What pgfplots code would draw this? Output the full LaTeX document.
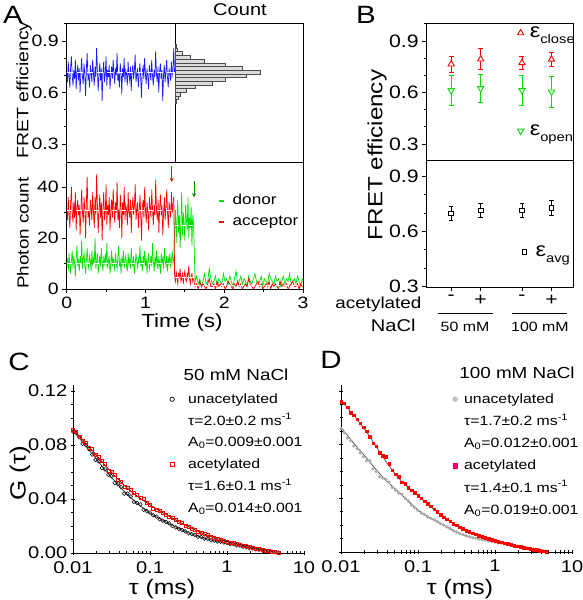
\documentclass[border=0pt]{standalone}
\usepackage{fontspec}
\setmainfont{Liberation Sans}[FakeStretch=1.18]
\usepackage{pgfplots}
\pgfplotsset{compat=1.18}
\usepackage{pgfplotstable}
\usetikzlibrary{arrows.meta}
\newcommand\fsz[1]{\fontsize{#1}{#1}\selectfont}
\newcommand\lsub[1]{\raisebox{-6pt}{\fsz{12.5}#1}}
\definecolor{tblue}{RGB}{25,25,255}
\definecolor{tgreen}{RGB}{0,225,0}
\definecolor{tred}{RGB}{255,0,0}
\definecolor{dpink}{RGB}{240,0,110}

% ---------- panel A data ----------
\pgfplotstableread[header=false,row sep=\\]{
0.72\\0.66\\0.78\\0.69\\0.63\\0.75\\0.81\\0.70\\0.64\\0.73\\
0.68\\0.79\\0.62\\0.71\\0.76\\0.67\\0.74\\0.60\\0.72\\0.80\\
0.69\\0.65\\0.77\\0.71\\0.58\\0.74\\0.83\\0.68\\0.70\\0.63\\
0.76\\0.72\\0.66\\0.79\\0.71\\0.64\\0.75\\0.69\\0.86\\0.73\\
0.61\\0.70\\0.77\\0.67\\0.74\\0.55\\0.72\\0.78\\0.66\\0.71\\
0.81\\0.64\\0.73\\0.69\\0.76\\0.62\\0.70\\0.75\\0.68\\0.79\\
0.72\\0.65\\0.74\\0.70\\0.83\\0.67\\0.71\\0.63\\0.77\\0.72\\
0.59\\0.74\\0.69\\0.80\\0.66\\0.73\\0.71\\0.64\\0.78\\0.70\\
0.67\\0.75\\0.61\\0.72\\0.76\\0.68\\0.73\\0.82\\0.66\\0.70\\
0.74\\0.63\\0.71\\0.77\\0.69\\0.57\\0.72\\0.75\\0.68\\0.80\\
0.71\\0.65\\0.74\\0.70\\0.62\\0.76\\0.72\\0.67\\0.79\\0.70\\
0.64\\0.73\\0.69\\0.84\\0.71\\0.66\\0.75\\0.60\\0.72\\0.77\\
0.68\\0.73\\0.55\\0.70\\0.76\\0.66\\0.72\\0.79\\0.69\\0.63\\
0.74\\0.71\\0.67\\0.78\\0.70\\0.73\\0.86\\0.72\\
}\blueA
\pgfplotstableread[header=false,row sep=\\]{
31\\27\\36\\29\\24\\33\\40\\30\\26\\34\\28\\38\\23\\32\\35\\29\\33\\21\\31\\39\\
30\\26\\36\\32\\20\\34\\44\\28\\31\\25\\35\\32\\27\\38\\30\\24\\36\\29\\45\\33\\
22\\31\\37\\28\\34\\19\\32\\38\\27\\30\\41\\25\\33\\29\\36\\23\\31\\35\\28\\39\\
32\\26\\34\\30\\42\\27\\31\\24\\37\\33\\20\\34\\29\\40\\27\\33\\31\\25\\38\\30\\
28\\35\\22\\32\\36\\29\\33\\41\\27\\31\\34\\24\\30\\37\\29\\19\\32\\35\\28\\40\\
31\\26\\34\\30\\23\\36\\32\\28\\39\\31\\25\\33\\29\\43\\31\\27\\35\\22\\32\\37\\
29\\33\\21\\30\\36\\27\\32\\39\\30\\24\\34\\31\\28\\38\\30\\33\\36\\
}\redA
\pgfplotstableread[header=false,row sep=\\]{
36\\5\\3\\7\\4\\2\\6\\5\\8\\3\\4\\6\\2\\5\\7\\4\\3\\6\\5\\9\\4\\2\\5\\6\\3\\4\\
}\redB
\pgfplotstableread[header=false,row sep=\\]{
4\\1\\2\\0\\3\\1\\2\\1\\0\\2\\4\\1\\1\\2\\0\\3\\1\\2\\1\\2\\0\\
1\\3\\2\\1\\0\\2\\1\\3\\1\\2\\0\\1\\2\\1\\4\\2\\1\\0\\1\\2\\
3\\1\\2\\0\\1\\2\\1\\3\\0\\2\\1\\2\\1\\0\\3\\1\\2\\1\\2\\0\\
1\\2\\3\\1\\1\\2\\0\\2\\1\\2\\
}\redC
\pgfplotstableread[header=false,row sep=\\]{
9\\12\\7\\14\\10\\6\\11\\15\\8\\13\\10\\5\\12\\17\\9\\11\\7\\13\\10\\19\\
8\\12\\14\\9\\6\\11\\16\\10\\8\\13\\11\\7\\15\\9\\12\\10\\20\\8\\11\\14\\
6\\10\\13\\9\\16\\11\\7\\12\\10\\14\\9\\18\\8\\11\\13\\6\\10\\15\\9\\12\\
11\\7\\14\\10\\8\\13\\17\\9\\11\\6\\12\\10\\15\\8\\11\\13\\9\\7\\14\\10\\
12\\8\\16\\11\\9\\13\\6\\10\\14\\11\\8\\12\\10\\17\\9\\11\\7\\13\\10\\15\\
9\\12\\6\\11\\14\\8\\10\\13\\9\\18\\11\\7\\12\\10\\15\\8\\13\\9\\11\\6\\
14\\10\\12\\8\\16\\11\\9\\13\\7\\12\\10\\14\\9\\11\\15\\10\\12\\
}\greenA
\pgfplotstableread[header=false,row sep=\\]{
12\\24\\31\\18\\27\\35\\22\\29\\16\\26\\38\\21\\30\\25\\19\\33\\27\\23\\36\\20\\28\\24\\32\\17\\29\\26\\
}\greenB
\pgfplotstableread[header=false,row sep=\\]{
26\\3\\5\\2\\4\\1\\3\\6\\2\\3\\8\\4\\2\\3\\5\\1\\4\\3\\2\\6\\3\\
4\\2\\5\\3\\1\\4\\7\\2\\3\\5\\2\\4\\3\\1\\5\\3\\2\\4\\6\\3\\
2\\3\\5\\1\\4\\3\\2\\6\\4\\3\\2\\5\\3\\4\\1\\3\\5\\2\\4\\3\\
6\\2\\3\\4\\2\\5\\3\\1\\4\\3\\
}\greenC

% ---------- panels C, D data (tau = 0.01*10^(k/24) for points, k/12 for fits) ----------
\pgfplotstableread[header=false,row sep=\\]{
0.090\\0.089\\0.086\\0.081\\0.080\\0.077\\0.073\\0.069\\0.068\\0.063\\
0.062\\0.058\\0.057\\0.052\\0.051\\0.049\\0.044\\0.044\\0.042\\0.038\\
0.037\\0.036\\0.032\\0.031\\0.030\\0.028\\0.027\\0.025\\0.024\\0.023\\
0.022\\0.020\\0.019\\0.018\\0.017\\0.016\\0.0148\\0.0140\\0.0133\\0.0120\\
0.0118\\0.0107\\0.0104\\0.0096\\0.0092\\0.0085\\0.0083\\0.0078\\0.0075\\0.0066\\
0.0066\\0.0057\\0.0055\\0.0047\\0.0044\\0.0037\\0.0034\\0.0027\\0.0025\\0.0019\\
0.0016\\0.0012\\0.0010\\0.0006\\0.0004\\
}\Cblack
\pgfplotstableread[header=false,row sep=\\]{
0.091\\0.090\\0.086\\0.083\\0.082\\0.078\\0.077\\0.073\\0.071\\0.068\\
0.066\\0.061\\0.060\\0.058\\0.054\\0.053\\0.049\\0.048\\0.047\\0.045\\
0.043\\0.041\\0.040\\0.037\\0.036\\0.033\\0.032\\0.031\\0.030\\0.028\\
0.027\\0.026\\0.0248\\0.0230\\0.0222\\0.0205\\0.0196\\0.0181\\0.0173\\0.0160\\
0.0152\\0.0139\\0.0132\\0.0121\\0.0116\\0.0105\\0.0100\\0.0091\\0.0087\\0.0079\\
0.0075\\0.0067\\0.0063\\0.0055\\0.0051\\0.0043\\0.0040\\0.0033\\0.0029\\0.0023\\
0.0020\\0.0014\\0.0011\\0.0007\\0.0005\\
}\Cred
\pgfplotstableread[header=false,row sep=\\]{
0.091\\0.085\\0.079\\0.0735\\0.0675\\0.0615\\0.0560\\0.0508\\0.0455\\0.0410\\
0.0368\\0.0330\\0.0296\\0.0268\\0.0242\\0.0217\\0.0193\\0.0170\\0.0150\\0.0132\\
0.0116\\0.0103\\0.0091\\0.0082\\0.0074\\0.0064\\0.0054\\0.0043\\0.0033\\0.0024\\
0.0016\\0.0009\\0.0004\\
}\Cfitblack
\pgfplotstableread[header=false,row sep=\\]{
0.092\\0.0865\\0.081\\0.076\\0.0705\\0.065\\0.0598\\0.0548\\0.0500\\0.0458\\
0.0422\\0.0388\\0.0357\\0.0327\\0.0299\\0.0272\\0.0245\\0.0219\\0.0195\\0.0172\\
0.0150\\0.0131\\0.0114\\0.0099\\0.0086\\0.0074\\0.0062\\0.0050\\0.0039\\0.0029\\
0.0019\\0.0011\\0.0005\\
}\Cfitred
\pgfplotstableread[header=false,row sep=\\]{
0.092\\0.089\\0.085\\0.083\\0.079\\0.077\\0.074\\0.071\\0.068\\0.068\\
0.062\\0.060\\0.056\\0.055\\0.054\\0.052\\0.048\\0.046\\0.044\\0.043\\
0.040\\0.038\\0.035\\0.033\\0.031\\0.029\\0.028\\0.026\\0.025\\0.024\\
0.0226\\0.0212\\0.0201\\0.0186\\0.0175\\0.0160\\0.0149\\0.0138\\0.0129\\0.0120\\
0.0114\\0.0107\\0.0102\\0.0096\\0.0091\\0.0087\\0.0082\\0.0078\\0.0074\\0.0069\\
0.0065\\0.0060\\0.0056\\0.0051\\0.0047\\0.0043\\0.0039\\0.0035\\0.0031\\0.0026\\
0.0022\\0.0018\\0.0014\\0.0010\\0.0006\\
}\Dgray
\pgfplotstableread[header=false,row sep=\\]{
0.112\\0.111\\0.108\\0.104\\0.102\\0.099\\0.096\\0.093\\0.090\\0.086\\
0.081\\0.079\\0.074\\0.072\\0.071\\0.066\\0.061\\0.058\\0.056\\0.052\\
0.051\\0.048\\0.046\\0.044\\0.042\\0.040\\0.038\\0.036\\0.034\\0.032\\
0.030\\0.028\\0.026\\0.0245\\0.0229\\0.0212\\0.0199\\0.0184\\0.0173\\0.0160\\
0.0151\\0.0140\\0.0132\\0.0121\\0.0114\\0.0105\\0.0099\\0.0091\\0.0086\\0.0078\\
0.0073\\0.0066\\0.0061\\0.0054\\0.0048\\0.0044\\0.0038\\0.0034\\0.0028\\0.0024\\
0.0019\\0.0015\\0.0010\\0.0007\\0.0003\\
}\Dred
\pgfplotstableread[header=false,row sep=\\]{
0.093\\0.087\\0.081\\0.0755\\0.070\\0.064\\0.0585\\0.0535\\0.049\\0.0446\\
0.0402\\0.0356\\0.0312\\0.0280\\0.0252\\0.0226\\0.0200\\0.0174\\0.0148\\0.0128\\
0.0113\\0.0101\\0.0091\\0.0082\\0.0074\\0.0065\\0.0056\\0.0047\\0.0039\\0.0031\\
0.0022\\0.0014\\0.0006\\
}\Dfitgray
\pgfplotstableread[header=false,row sep=\\]{
0.113\\0.1075\\0.1018\\0.0958\\0.0895\\0.0822\\0.0748\\0.0676\\0.0608\\0.0550\\
0.0500\\0.0458\\0.0420\\0.0378\\0.0336\\0.0297\\0.0260\\0.0228\\0.0198\\0.0172\\
0.0150\\0.0131\\0.0113\\0.0098\\0.0085\\0.0072\\0.0060\\0.0048\\0.0038\\0.0028\\
0.0019\\0.0010\\0.0003\\
}\Dfitred

\pgfplotsset{
  base/.style={scale only axis, anchor=south west,
    axis line style={line width=0.9pt},
    every tick/.style={black, line width=0.8pt},
    tick align=outside, major tick length=4.5pt, minor tick length=3pt,
    /pgf/number format/assume math mode=true,
    tick label style={font=\fsz{16.5}},
    scaled ticks=false},
  onedec/.style={yticklabel style={/pgf/number format/fixed, /pgf/number format/precision=1}},
  markleg/.style={legend image code/.code={\path[draw=none,fill=none] (-3pt,-3pt) rectangle (3pt,3pt); \draw[##1] plot coordinates {(0pt,0pt)};}},
}

\begin{document}
\begin{tikzpicture}
\useasboundingbox (0,0) rectangle (582pt,600pt);

% ===== Panel A, FRET trace =====
\begin{axis}[base, onedec, at={(66.7pt,438pt)}, width=108.3pt, height=139pt,
  xmin=0, xmax=1.376, ymin=0.195, ymax=1.005, xtick=\empty,
  ytick={0.3,0.6,0.9}, minor ytick={0.4,0.5,0.7,0.8,1.0}, ytick pos=left]
\addplot[tblue, line width=0.7pt] table[x expr=\coordindex*0.01, y index=0]{\blueA};
\addplot[white, line width=1pt, dash pattern=on 6pt off 4pt] coordinates {(0,0.715)(1.376,0.715)};
\end{axis}
% ===== Panel A, histogram =====
\begin{axis}[base, at={(175pt,438pt)}, width=128pt, height=139pt,
  xmin=0, xmax=128, ymin=0.195, ymax=1.005, xtick=\empty, ytick=\empty]
\addplot[xbar, bar width=0.0215, fill=gray!28, draw=black!70, line width=0.5pt]
 coordinates {(1.5,0.870)(2.5,0.849)(7.7,0.827)(15.7,0.806)(29,0.784)(50.7,0.762)(67.7,0.741)(85,0.719)
 (71.7,0.698)(50.7,0.676)(37.7,0.655)(20,0.633)(11.7,0.612)(5,0.590)(3.3,0.569)(1.7,0.547)};
\end{axis}
% ===== Panel A, photon counts =====
\begin{axis}[base, at={(66.7pt,311pt)}, width=236.3pt, height=127pt,
  xmin=0, xmax=3, ymin=0, ymax=49.8,
  xtick={0,1,2,3}, minor xtick={0.5,1.5,2.5}, ytick={0,20,40}, minor ytick={10,30},
  xtick pos=bottom, ytick pos=left,
  legend image code/.code={\draw[#1, line width=1.6pt] (0pt,0pt) -- (5pt,0pt);},
  legend style={at={(0.640,0.76)}, anchor=north west, draw=none, fill=none,
    font=\fsz{14.5}, inner sep=0pt, row sep=4pt,
    nodes={inner sep=1pt, text height=11pt, text depth=4pt},
    /tikz/every odd column/.append style={column sep=7pt}},
  legend cell align=left]
\addplot[tgreen, line width=0.7pt] table[x expr=\coordindex*0.01, y index=0]{\greenA};
\addlegendentry{donor}
\addplot[tgreen, line width=0.7pt, forget plot] table[x expr=1.36+\coordindex*0.01, y index=0]{\greenB};
\addplot[tgreen, line width=0.7pt, forget plot] table[x expr=1.61+\coordindex*0.02, y index=0]{\greenC};
\addplot[tred, line width=0.7pt] table[x expr=\coordindex*0.01, y index=0]{\redA};
\addlegendentry{acceptor}
\addplot[tred, line width=0.7pt, forget plot] table[x expr=1.36+\coordindex*0.01, y index=0]{\redB};
\addplot[tred, line width=0.7pt, forget plot] table[x expr=1.61+\coordindex*0.02, y index=0]{\redC};
\addplot[white, line width=0.8pt, dash pattern=on 5pt off 4pt, forget plot] coordinates {(0,31)(1.37,31)};
\addplot[white, line width=0.8pt, dash pattern=on 5pt off 4pt, forget plot] coordinates {(0,10)(1.37,10)};
\addplot[white, line width=0.8pt, dash pattern=on 4pt off 3pt, forget plot] coordinates {(1.37,25)(1.62,25)};
\addplot[white, line width=0.8pt, dash pattern=on 4pt off 3pt, forget plot] coordinates {(1.37,4.5)(1.62,4.5)};
\addplot[white, line width=0.8pt, dash pattern=on 5pt off 4pt, forget plot] coordinates {(1.62,1.5)(3,1.5)};
\draw[tred, line width=0.9pt, -{Stealth[length=4pt,width=4pt]}] (axis cs:1.334,48.3) -- (axis cs:1.334,42);
\draw[green!55!black, line width=0.9pt, -{Stealth[length=4pt,width=4pt]}] (axis cs:1.617,42.3) -- (axis cs:1.617,36);
\end{axis}

% ===== Panel B, upper =====
\begin{axis}[base, onedec, markleg, at={(426.7pt,440pt)}, width=146.3pt, height=137pt,
  xmin=-0.83, xmax=4.13, ymin=0.207, ymax=1.005, xtick=\empty,
  ytick={0.3,0.6,0.9}, minor ytick={0.4,0.5,0.7,0.8,1.0}, ytick pos=left,
  tick label style={font=\fsz{18}},
  legend style={at={(0.6195,0.927)}, anchor=west, draw=none, fill=none, font=\fsz{20},
    inner sep=0pt, nodes={inner sep=0pt, text height=15pt, text depth=5pt},
    /tikz/every odd column/.append style={column sep=6pt}}]
\addplot[tred, only marks, mark=triangle*, mark size=3.6pt, mark options={fill=white, line width=0.9pt},
  error bars/.cd, y dir=both, y explicit,
  error bar style={line width=0.9pt, tred},
  error mark options={rotate=90, tred, line width=0.9pt, mark size=2.5pt}]
 coordinates {(0,0.765) +- (0,0.048) (1,0.794) +- (0,0.06) (2.4,0.773) +- (0,0.04) (3.4,0.793) +- (0,0.04)};
\addlegendentry{ε\lsub{close}}
\end{axis}
\begin{axis}[base, markleg, hide axis, at={(426.7pt,440pt)}, width=146.3pt, height=137pt,
  xmin=-0.83, xmax=4.13, ymin=0.207, ymax=1.005,
  legend style={at={(0.6195,0.212)}, anchor=west, draw=none, fill=none, font=\fsz{20},
    inner sep=0pt, nodes={inner sep=0pt, text height=15pt, text depth=5pt},
    /tikz/every odd column/.append style={column sep=6pt}}]
\addplot[tgreen, only marks, mark=triangle*, mark size=3.6pt, mark options={rotate=180, fill=white, line width=0.9pt},
  error bars/.cd, y dir=both, y explicit,
  error bar style={line width=0.9pt, tgreen},
  error mark options={rotate=90, tgreen, line width=0.9pt, mark size=2.5pt}]
 coordinates {(0,0.612) +- (0,0.09) (1,0.624) +- (0,0.08) (2.4,0.612) +- (0,0.09) (3.4,0.604) +- (0,0.09)};
\addlegendentry{ε\lsub{open}}
\end{axis}
% ===== Panel B, lower =====
\begin{axis}[base, onedec, markleg, at={(426.7pt,313pt)}, width=146.3pt, height=127pt,
  xmin=-0.83, xmax=4.13, ymin=0.297, ymax=0.99,
  xtick={0,1,2.4,3.4}, xticklabels={-,+,-,+},
  ytick={0.3,0.6,0.9}, minor ytick={0.4,0.5,0.7,0.8}, xtick pos=bottom, ytick pos=left,
  tick label style={font=\fsz{18}},
  legend style={at={(0.6476,0.276)}, anchor=west, draw=none, fill=none, font=\fsz{20},
    inner sep=0pt, nodes={inner sep=0pt, text height=15pt, text depth=5pt},
    /tikz/every odd column/.append style={column sep=8pt}}]
\addplot[black, only marks, mark=square*, mark size=2.3pt, mark options={fill=white, line width=0.9pt},
  error bars/.cd, y dir=both, y explicit,
  error bar style={line width=0.9pt, black},
  error mark options={rotate=90, black, line width=0.9pt, mark size=2.3pt}]
 coordinates {(0,0.699) +- (0,0.037) (1,0.714) +- (0,0.04) (2.4,0.714) +- (0,0.04) (3.4,0.727) +- (0,0.04)};
\addlegendentry{ε\lsub{avg}}
\end{axis}

% ===== Panel C =====
\begin{axis}[base, markleg, at={(73pt,47pt)}, width=231pt, height=168pt,
  xmode=log, xmin=0.01, xmax=10, ymin=0, ymax=0.1245,
  axis x line=bottom, axis y line=left, axis line style={-, line width=0.9pt},
  xtick={0.01,0.1,1,10}, xticklabels={0.01,0.1,1,10},
  xticklabel style={yshift=-2.5pt},
  ytick={0,0.04,0.08,0.12}, minor ytick={0.01,0.02,0.03,0.05,0.06,0.07,0.09,0.10,0.11},
  yticklabel style={/pgf/number format/fixed, /pgf/number format/fixed zerofill, /pgf/number format/precision=2},
  tick label style={font=\fsz{17}},
  legend style={at={(0.4156,0.970)}, anchor=north west, draw=none, fill=none, font=\fsz{13.4},
    inner sep=0pt, row sep=3.8pt,
    nodes={inner sep=1pt, text height=12pt, text depth=4pt},
    /tikz/every odd column/.append style={column sep=12pt}},
  legend cell align=left]
\addplot[black, only marks, mark=o, mark size=1.9pt, line width=0.5pt, forget plot]
  table[x expr={0.01*10^(\coordindex/24)}, y index=0]{\Cblack};
\addplot[tred, only marks, mark=square, mark size=1.5pt, line width=0.5pt, forget plot]
  table[x expr={0.01*10^(\coordindex/24)}, y index=0]{\Cred};
\addplot[black!75, line width=0.8pt, forget plot] table[x expr={0.01*10^(\coordindex/12)}, y index=0]{\Cfitblack};
\addplot[black!55!red, line width=0.8pt, forget plot] table[x expr={0.01*10^(\coordindex/12)}, y index=0]{\Cfitred};
\addlegendimage{black, only marks, mark=o, mark size=2.2pt, line width=0.7pt}
\addlegendentry{unacetylated}
\addlegendimage{empty legend}
\addlegendentry{τ=2.0±0.2 ms\textsuperscript{-1}}
\addlegendimage{empty legend}
\addlegendentry{A\textsubscript{0}=0.009±0.001}
\addlegendimage{tred, only marks, mark=square, mark size=2.2pt, line width=0.7pt}
\addlegendentry{acetylated}
\addlegendimage{empty legend}
\addlegendentry{τ=1.6±0.1 ms\textsuperscript{-1}}
\addlegendimage{empty legend}
\addlegendentry{A\textsubscript{0}=0.014±0.001}
\end{axis}

% ===== Panel D =====
\begin{axis}[base, markleg, at={(341pt,48pt)}, width=231pt, height=167pt,
  xmode=log, xmin=0.01, xmax=10, ymin=0, ymax=0.1245,
  axis x line=bottom, axis y line=left, axis line style={-, line width=0.9pt},
  xtick={0.01,0.1,1,10}, xticklabels={0.01,0.1,1,10},
  xticklabel style={yshift=-2.5pt},
  ytick={0,0.04,0.08,0.12}, minor ytick={0.01,0.02,0.03,0.05,0.06,0.07,0.09,0.10,0.11},
  yticklabels={},
  tick label style={font=\fsz{17}},
  legend style={at={(0.4805,0.970)}, anchor=north west, draw=none, fill=none, font=\fsz{13.4},
    inner sep=0pt, row sep=4.2pt,
    nodes={inner sep=1pt, text height=12pt, text depth=4pt},
    /tikz/every odd column/.append style={column sep=5pt}},
  legend cell align=left]
\addplot[gray!65, only marks, mark=*, mark size=1.5pt, forget plot]
  table[x expr={0.01*10^(\coordindex/24)}, y index=0]{\Dgray};
\addplot[tred, only marks, mark=square*, mark size=1.3pt, forget plot]
  table[x expr={0.01*10^(\coordindex/24)}, y index=0]{\Dred};
\addplot[black!65, line width=0.8pt, forget plot] table[x expr={0.01*10^(\coordindex/12)}, y index=0]{\Dfitgray};
\addplot[black!65, line width=0.8pt, forget plot] table[x expr={0.01*10^(\coordindex/12)}, y index=0]{\Dfitred};
\addlegendimage{gray!50, only marks, mark=*, mark size=2.4pt}
\addlegendentry{unacetylated}
\addlegendimage{empty legend}
\addlegendentry{τ=1.7±0.2 ms\textsuperscript{-1}}
\addlegendimage{empty legend}
\addlegendentry{A\textsubscript{0}=0.012±0.001}
\addlegendimage{dpink, only marks, mark=square*, mark size=2.3pt}
\addlegendentry{acetylated}
\addlegendimage{empty legend}
\addlegendentry{τ=1.4±0.1 ms\textsuperscript{-1}}
\addlegendimage{empty legend}
\addlegendentry{A\textsubscript{0}=0.019±0.001}
\end{axis}

% ===== labels =====
\node[font=\fsz{25}] at (13pt,585pt) {A};
\node[font=\fsz{25}] at (366pt,585pt) {B};
\node[font=\fsz{25}] at (19pt,238pt) {C};
\node[font=\fsz{25}] at (331pt,240pt) {D};
\node[font=\fsz{17}] at (240pt,590pt) {Count};
\node[font=\fsz{16.5}, rotate=90] at (24pt,510pt) {FRET efficiency};
\node[font=\fsz{16}, rotate=90] at (23pt,367pt) {Photon count};
\node[font=\fsz{19}] at (182pt,277pt) {Time (s)};
\node[font=\fsz{20.5}, rotate=90] at (377pt,445pt) {FRET efficiency};
\node[font=\fsz{16}, anchor=east] at (425pt,296pt) {acetylated};
\node[font=\fsz{17}, anchor=east] at (419pt,275pt) {NaCl};
\node[font=\fsz{13.5}] at (465pt,273pt) {50 mM};
\node[font=\fsz{13.5}] at (540pt,273pt) {100 mM};
\draw[line width=0.7pt] (438pt,287pt) -- (493pt,287pt);
\draw[line width=0.7pt] (512pt,287pt) -- (567pt,287pt);
\node[font=\fsz{16}] at (236pt,225pt) {50 mM NaCl};
\node[font=\fsz{16}] at (517pt,227pt) {100 mM NaCl};
\node[font=\fsz{22}, rotate=90] at (20pt,127pt) {G (τ)};
\node[font=\fsz{21}] at (162pt,10.5pt) {τ (ms)};
\node[font=\fsz{21}] at (460pt,10.5pt) {τ (ms)};
\end{tikzpicture}
\end{document}
